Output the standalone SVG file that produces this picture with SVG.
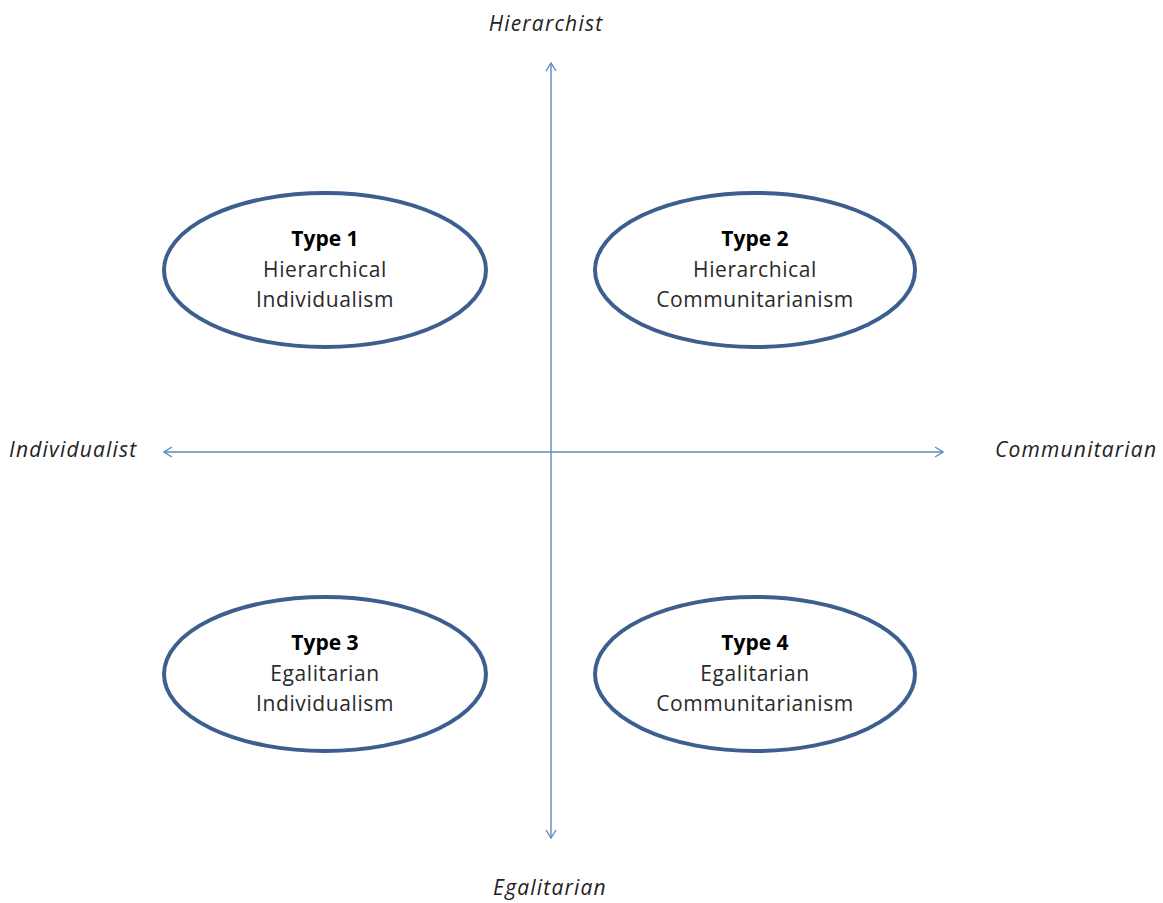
<svg xmlns="http://www.w3.org/2000/svg" width="1163" height="903" viewBox="0 0 1163 903">
<style>
.node ellipse{fill:#fff;stroke:#3d5f8f;stroke-width:4}
.t{font-family:"Open Sans","Liberation Sans",sans-serif;font-size:21px;fill:#2a2a2a;text-anchor:middle;letter-spacing:0.6px}
.b{font-weight:bold;fill:#000;letter-spacing:0}
.ax{font-family:"Open Sans","Liberation Sans",sans-serif;font-size:21px;font-style:italic;fill:#222;letter-spacing:1.2px}
.conn line{stroke:#5a8cbf;stroke-width:1.4;fill:none}
</style>
<defs>
<marker id="ah" viewBox="0 0 10 12" refX="9" refY="6" markerWidth="10" markerHeight="12" markerUnits="userSpaceOnUse" orient="auto-start-reverse">
<path d="M1,1 L9,6 L1,11" fill="none" stroke="#5a8cbf" stroke-width="1.4"/>
</marker>
</defs>
<rect width="1163" height="903" fill="#fff"/>
<g id="connectors" class="conn">
<line x1="551" y1="63" x2="551" y2="838" marker-start="url(#ah)" marker-end="url(#ah)"/>
<line x1="164" y1="452" x2="943" y2="452" marker-start="url(#ah)" marker-end="url(#ah)"/>
</g>
<g id="type1" class="node">
<ellipse cx="325" cy="270" rx="161" ry="77"/>
<text class="t b" x="325" y="246">Type 1</text>
<text class="t" x="325" y="277">Hierarchical</text>
<text class="t" x="325" y="307">Individualism</text>
</g>
<g id="type2" class="node">
<ellipse cx="755" cy="270" rx="160" ry="77"/>
<text class="t b" x="755" y="246">Type 2</text>
<text class="t" x="755" y="277">Hierarchical</text>
<text class="t" x="755" y="307">Communitarianism</text>
</g>
<g id="type3" class="node">
<ellipse cx="325" cy="674" rx="161" ry="77"/>
<text class="t b" x="325" y="650">Type 3</text>
<text class="t" x="325" y="681">Egalitarian</text>
<text class="t" x="325" y="711">Individualism</text>
</g>
<g id="type4" class="node">
<ellipse cx="755" cy="674" rx="160" ry="77"/>
<text class="t b" x="755" y="650">Type 4</text>
<text class="t" x="755" y="681">Egalitarian</text>
<text class="t" x="755" y="711">Communitarianism</text>
</g>
<g id="labels">
<text class="ax" x="546" y="31" text-anchor="middle">Hierarchist</text>
<text class="ax" x="9" y="457">Individualist</text>
<text class="ax" x="995" y="457">Communitarian</text>
<text class="ax" x="550" y="895" text-anchor="middle">Egalitarian</text>
</g>
</svg>
